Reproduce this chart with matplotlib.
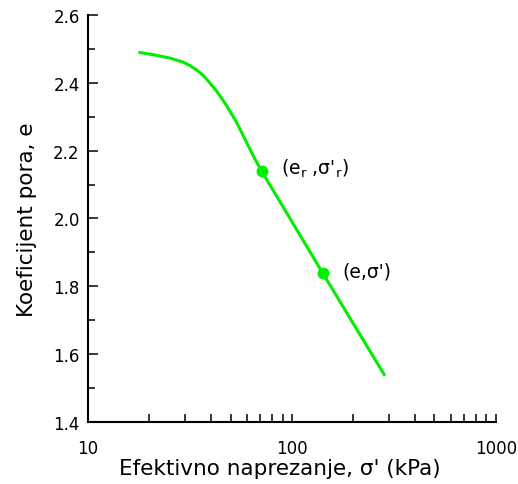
import numpy as np
import matplotlib
matplotlib.use("Agg")
import matplotlib.pyplot as plt
from matplotlib.ticker import LogLocator, FixedLocator, NullFormatter

# curve: effective stress (kPa) vs void ratio
stress = [17.65, 21.3, 25.2, 29.3, 31.6, 34.1, 36.7, 38.9, 42.7, 47.9,
          53.6, 60.0, 65.9, 71.0, 142.0, 286.0]
void_ratio = [2.490, 2.482, 2.473, 2.461, 2.451, 2.438, 2.422, 2.405, 2.376, 2.332,
              2.283, 2.224, 2.175, 2.140, 1.838, 1.536]

# marked points
pt_stress = [71.0, 142.0]
pt_e = [2.140, 1.838]
pt_labels = ["(e$_r$ ,σ'$_r$)", "(e,σ')"]

GREEN = "#00ee00"

plt.rcParams["mathtext.default"] = "regular"
plt.rcParams["font.family"] = ["DejaVu Sans"]

fig = plt.figure(figsize=(5.18, 4.85), dpi=100)
ax = fig.add_axes([0.170, 0.128, 0.787, 0.839])

ax.plot(stress, void_ratio, "-", color=GREEN, linewidth=2.2,
        solid_capstyle="butt", solid_joinstyle="round")
ax.plot(pt_stress, pt_e, "o", color=GREEN, markersize=7.5)

ax.annotate(pt_labels[0], (pt_stress[0], pt_e[0]), xytext=(14, 2),
            textcoords="offset points", va="center", ha="left", fontsize=13.5)
ax.annotate(pt_labels[1], (pt_stress[1], pt_e[1]), xytext=(14, 2),
            textcoords="offset points", va="center", ha="left", fontsize=13.5)

ax.set_xscale("log")
ax.set_xlim(10, 1000)
ax.set_ylim(1.4, 2.6)

ax.xaxis.set_major_locator(FixedLocator([10, 100, 1000]))
ax.xaxis.set_minor_locator(LogLocator(base=10, subs=np.arange(2, 10)))
ax.xaxis.set_minor_formatter(NullFormatter())
ax.set_xticklabels(["10", "100", "1000"])
ax.yaxis.set_major_locator(FixedLocator(np.arange(1.4, 2.61, 0.2)))
ax.yaxis.set_minor_locator(FixedLocator(np.arange(1.5, 2.6, 0.2)))
ax.set_yticklabels([f"{v:.1f}" for v in np.arange(1.4, 2.61, 0.2)])

for side in ("top", "right"):
    ax.spines[side].set_visible(False)
for side in ("left", "bottom"):
    ax.spines[side].set_linewidth(1.5)

ax.tick_params(axis="y", which="major", direction="in", length=7.2, width=1.1, labelsize=12, pad=6)
ax.tick_params(axis="y", which="minor", direction="in", length=5, width=1.1)
ax.tick_params(axis="x", which="major", direction="in", length=6, width=1.1, labelsize=12, pad=12)
ax.tick_params(axis="x", which="minor", direction="in", length=6, width=1.1)

ax.set_xlabel("Efektivno naprezanje, σ' (kPa)", fontsize=15.5)
ax.set_ylabel("Koeficijent pora, e", fontsize=15.5)
ax.xaxis.set_label_coords(0.47, -0.088)
ax.yaxis.set_label_coords(-0.125, 0.5)

fig.savefig("out.png", dpi=100)
